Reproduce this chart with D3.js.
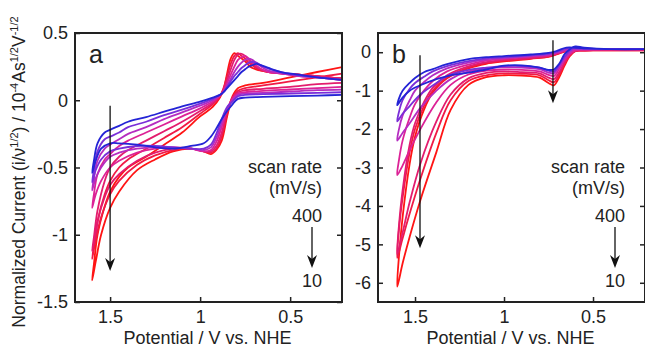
<!DOCTYPE html>
<html>
<head>
<meta charset="utf-8">
<script src="https://cdn.jsdelivr.net/npm/d3@7"></script>
<style>
  body { margin: 0; background: #fff; }
  text { font-family: "Liberation Sans", Arial, sans-serif; fill: #222; }
</style>
</head>
<body>
<svg id="chart" width="645" height="348"></svg>
<script>
// scan rates (mV/s), slowest first, with the line colour for each
const scanRates = [10, 20, 50, 100, 200, 300, 400];
const rateColors = ['#ff1414', '#f01a46', '#e31c6e', '#dc2296', '#b52cc0', '#7a2ed8', '#2424d6'];

// panel a : forward branch (towards 1.6 V) and return branch, E in V
const aLowE = [0.2, 0.35, 0.5, 0.65, 0.75, 0.79, 0.82, 0.85, 0.88, 0.91, 0.94, 0.98, 1.05, 1.15, 1.25, 1.35, 1.45, 1.5, 1.55, 1.58, 1.6];
const aLow = [
  [0.25, 0.21, 0.17, 0.13, 0.11, 0.09, 0.03, -0.12, -0.3, -0.37, -0.4, -0.38, -0.36, -0.38, -0.44, -0.52, -0.68, -0.8, -1.0, -1.2, -1.34],
  [0.2, 0.17, 0.14, 0.11, 0.09, 0.07, 0.02, -0.1, -0.27, -0.36, -0.39, -0.38, -0.36, -0.37, -0.41, -0.48, -0.6, -0.7, -0.87, -1.04, -1.18],
  [0.13, 0.12, 0.1, 0.085, 0.075, 0.06, 0.02, -0.08, -0.24, -0.34, -0.38, -0.38, -0.36, -0.36, -0.39, -0.45, -0.55, -0.63, -0.8, -0.98, -1.12],
  [0.1, 0.09, 0.08, 0.07, 0.06, 0.05, 0.01, -0.07, -0.2, -0.31, -0.37, -0.38, -0.36, -0.35, -0.36, -0.39, -0.45, -0.5, -0.6, -0.7, -0.8],
  [0.08, 0.075, 0.065, 0.055, 0.05, 0.04, 0.0, -0.06, -0.17, -0.28, -0.35, -0.37, -0.36, -0.35, -0.35, -0.36, -0.39, -0.42, -0.5, -0.58, -0.67],
  [0.06, 0.055, 0.05, 0.045, 0.04, 0.03, -0.01, -0.05, -0.14, -0.25, -0.33, -0.36, -0.36, -0.35, -0.34, -0.34, -0.36, -0.38, -0.44, -0.52, -0.61],
  [0.04, 0.035, 0.03, 0.025, 0.02, 0.01, -0.03, -0.08, -0.14, -0.21, -0.27, -0.32, -0.34, -0.36, -0.35, -0.33, -0.32, -0.32, -0.36, -0.45, -0.54]
];
const aUpE = [1.59, 1.57, 1.53, 1.5, 1.45, 1.4, 1.3, 1.2, 1.1, 1.0, 0.93, 0.89, 0.87, 0.85, 0.83, 0.81, 0.79, 0.77, 0.75, 0.73, 0.71, 0.69, 0.66, 0.62, 0.55, 0.45, 0.35, 0.2];
const aUp = [
  [-1.22, -1.0, -0.79, -0.68, -0.57, -0.5, -0.42, -0.33, -0.24, -0.12, -0.05, 0.02, 0.08, 0.2, 0.31, 0.35, 0.33, 0.31, 0.29, 0.26, 0.24, 0.23, 0.22, 0.21, 0.2, 0.19, 0.18, 0.16],
  [-1.08, -0.9, -0.7, -0.6, -0.5, -0.44, -0.36, -0.28, -0.2, -0.1, -0.03, 0.03, 0.09, 0.18, 0.27, 0.33, 0.35, 0.33, 0.31, 0.28, 0.26, 0.24, 0.22, 0.21, 0.2, 0.19, 0.18, 0.16],
  [-1.02, -0.82, -0.6, -0.5, -0.42, -0.37, -0.3, -0.23, -0.16, -0.08, -0.02, 0.03, 0.08, 0.15, 0.23, 0.3, 0.34, 0.345, 0.33, 0.3, 0.27, 0.25, 0.23, 0.21, 0.2, 0.19, 0.18, 0.16],
  [-0.7, -0.55, -0.44, -0.4, -0.34, -0.3, -0.24, -0.18, -0.12, -0.06, -0.01, 0.035, 0.07, 0.13, 0.19, 0.25, 0.3, 0.32, 0.33, 0.31, 0.28, 0.26, 0.23, 0.21, 0.2, 0.18, 0.17, 0.15],
  [-0.58, -0.45, -0.36, -0.33, -0.29, -0.25, -0.2, -0.14, -0.09, -0.04, 0.0, 0.04, 0.065, 0.11, 0.16, 0.21, 0.25, 0.28, 0.3, 0.31, 0.3, 0.28, 0.25, 0.22, 0.2, 0.18, 0.17, 0.15],
  [-0.52, -0.38, -0.29, -0.27, -0.24, -0.2, -0.16, -0.11, -0.07, -0.025, 0.01, 0.04, 0.06, 0.1, 0.14, 0.18, 0.21, 0.24, 0.26, 0.28, 0.285, 0.28, 0.26, 0.235, 0.21, 0.185, 0.17, 0.15],
  [-0.45, -0.32, -0.24, -0.22, -0.19, -0.16, -0.125, -0.085, -0.045, -0.01, 0.02, 0.04, 0.06, 0.09, 0.12, 0.15, 0.18, 0.21, 0.23, 0.25, 0.26, 0.27, 0.26, 0.24, 0.21, 0.19, 0.17, 0.15]
];

// panel b
const bLowE = [0.2, 0.4, 0.55, 0.6, 0.63, 0.66, 0.69, 0.72, 0.75, 0.8, 0.9, 1.0, 1.1, 1.2, 1.3, 1.38, 1.47, 1.53, 1.57, 1.6];
const bLow = [
  [0.06, 0.06, 0.04, 0.03, -0.1, -0.35, -0.65, -0.86, -0.8, -0.66, -0.61, -0.6, -0.65, -0.85, -1.5, -2.6, -3.85, -4.8, -5.5, -6.1],
  [0.06, 0.06, 0.04, 0.03, -0.08, -0.3, -0.58, -0.78, -0.73, -0.6, -0.56, -0.55, -0.6, -0.75, -1.25, -2.1, -3.3, -4.2, -4.85, -5.35],
  [0.07, 0.07, 0.05, 0.04, -0.06, -0.26, -0.52, -0.7, -0.66, -0.55, -0.52, -0.5, -0.54, -0.68, -1.1, -1.8, -2.9, -3.9, -4.7, -5.25],
  [0.07, 0.07, 0.06, 0.05, -0.04, -0.2, -0.44, -0.62, -0.59, -0.5, -0.46, -0.45, -0.48, -0.58, -0.85, -1.3, -2.0, -2.55, -2.95, -3.2],
  [0.08, 0.08, 0.09, 0.09, 0.0, -0.16, -0.38, -0.55, -0.53, -0.44, -0.4, -0.39, -0.42, -0.5, -0.7, -1.0, -1.45, -1.85, -2.1, -2.3],
  [0.08, 0.08, 0.1, 0.12, 0.04, -0.12, -0.33, -0.5, -0.48, -0.4, -0.36, -0.36, -0.4, -0.46, -0.58, -0.8, -1.1, -1.4, -1.6, -1.8],
  [0.08, 0.08, 0.12, 0.15, 0.08, -0.05, -0.3, -0.45, -0.46, -0.4, -0.34, -0.35, -0.45, -0.53, -0.6, -0.7, -0.86, -1.0, -1.18, -1.38]
];
const bUpE = [1.59, 1.57, 1.53, 1.5, 1.45, 1.4, 1.32, 1.2, 1.1, 1.0, 0.85, 0.75, 0.7, 0.65, 0.55, 0.4, 0.2];
const bUp = [
  [-5.3, -4.3, -2.9, -2.2, -1.5, -1.05, -0.68, -0.42, -0.3, -0.24, -0.17, -0.12, -0.05, 0.03, 0.05, 0.05, 0.05],
  [-4.6, -3.8, -2.6, -2.0, -1.4, -1.0, -0.65, -0.4, -0.28, -0.22, -0.16, -0.11, -0.04, 0.03, 0.05, 0.05, 0.05],
  [-4.5, -3.6, -2.4, -1.85, -1.3, -0.92, -0.6, -0.37, -0.26, -0.2, -0.15, -0.1, -0.03, 0.04, 0.06, 0.06, 0.06],
  [-2.8, -2.3, -1.7, -1.35, -1.0, -0.75, -0.5, -0.32, -0.22, -0.17, -0.12, -0.08, -0.02, 0.05, 0.07, 0.07, 0.07],
  [-2.0, -1.65, -1.25, -1.0, -0.78, -0.6, -0.42, -0.27, -0.19, -0.15, -0.1, -0.06, 0.0, 0.07, 0.08, 0.08, 0.08],
  [-1.55, -1.25, -0.95, -0.8, -0.64, -0.5, -0.36, -0.23, -0.16, -0.13, -0.08, -0.04, 0.02, 0.1, 0.09, 0.08, 0.08],
  [-1.2, -1.0, -0.8, -0.67, -0.52, -0.44, -0.31, -0.18, -0.13, -0.1, -0.06, -0.02, 0.04, 0.12, 0.1, 0.08, 0.08]
];

// tick values
const xTicks = [1.5, 1, 0.5];
const aYTicks = [-1.5, -1, -0.5, 0, 0.5];
const bYTicks = [-6, -5, -4, -3, -2, -1, 0];

// trend arrows: potential, start current, end current
const aArrows = [[1.5, -0.04, -1.27]];
const bArrows = [[1.472, -0.08, -5.1], [0.725, 0.31, -1.33]];

const svg = d3.select('#chart');
const fontSize = 18;
const panelW = 267, panelH = 269, panelTop = 33;

function drawArrow(g, ax, y0, y1, w) {
  g.append('line')
    .attr('x1', ax).attr('x2', ax).attr('y1', y0).attr('y2', y1 - 6)
    .attr('stroke', '#111').attr('stroke-width', w);
  g.append('path')
    .attr('d', 'M' + ax + ',' + y1 + 'L' + (ax - 5) + ',' + (y1 - 13) + 'L' + ax + ',' + (y1 - 9) +
      'L' + (ax + 5) + ',' + (y1 - 13) + 'Z')
    .attr('fill', '#111');
}

function drawPanel(opt) {
  const g = svg.append('g').attr('transform', 'translate(' + opt.left + ',' + panelTop + ')');
  const x = d3.scaleLinear().domain(opt.xDomain).range([0, panelW]);
  const y = d3.scaleLinear().domain(opt.yDomain).range([panelH, 0]);

  g.append('clipPath').attr('id', 'clip' + opt.label)
    .append('rect').attr('width', panelW).attr('height', panelH);

  const line = d3.line()
    .x(d => x(d[0]))
    .y(d => y(d[1]))
    .curve(d3.curveCatmullRom.alpha(0.5));

  const plot = g.append('g').attr('clip-path', 'url(#clip' + opt.label + ')');
  scanRates.forEach((rate, i) => {
    const pts = opt.lowE.map((e, j) => [e, opt.low[i][j]])
      .concat(opt.upE.map((e, j) => [e, opt.up[i][j]]));
    plot.append('path')
      .datum(pts)
      .attr('d', line)
      .attr('fill', 'none')
      .attr('stroke', rateColors[i])
      .attr('stroke-width', 1.8)
      .attr('stroke-linejoin', 'round');
  });

  // axes with inward ticks
  g.append('g')
    .call(d3.axisLeft(y).tickValues(opt.yTicks).tickSize(-5).tickPadding(7).tickFormat(d => String(d)));
  g.append('g').attr('transform', 'translate(' + panelW + ',0)')
    .call(d3.axisRight(y).tickValues(opt.yTicks).tickSize(-5).tickFormat(''));
  g.append('g').attr('transform', 'translate(0,' + panelH + ')')
    .call(d3.axisBottom(x).tickValues(xTicks).tickSize(-5).tickPadding(8).tickFormat(d => String(d)));
  g.selectAll('.domain').remove();
  g.selectAll('.tick line').attr('stroke', '#222').attr('stroke-width', 1.5);
  g.selectAll('.tick text').style('font-size', fontSize + 'px')
    .style('font-family', '"Liberation Sans", Arial, sans-serif').attr('fill', '#222');

  g.append('rect')
    .attr('width', panelW).attr('height', panelH)
    .attr('fill', 'none').attr('stroke', '#222').attr('stroke-width', 2);

  g.append('text')
    .attr('x', 14).attr('y', 30)
    .style('font-size', '25px')
    .text(opt.label);

  // arrows
  opt.arrows.forEach(a => drawArrow(g, x(a[0]), y(a[1]), y(a[2]), 1.3));

  // scan rate key
  const kx = panelW - 20;
  const key = [['scan rate', 140], ['(mV/s)', 161], ['400', 189], ['10', 254]];
  key.forEach(k => {
    g.append('text').attr('x', kx).attr('y', k[1])
      .attr('text-anchor', 'end').style('font-size', fontSize + 'px').text(k[0]);
  });
  drawArrow(g, panelW - 30, 194, 235, 1.3);

  g.append('text')
    .attr('x', panelW / 2 - 1).attr('y', panelH + 42)
    .attr('text-anchor', 'middle')
    .style('font-size', fontSize + 'px')
    .text('Potential / V vs. NHE');
}

drawPanel({ label: 'a', left: 75, xDomain: [1.695, 0.212], yDomain: [-1.5, 0.5], yTicks: aYTicks,
  lowE: aLowE, low: aLow, upE: aUpE, up: aUp, arrows: aArrows });
drawPanel({ label: 'b', left: 378, xDomain: [1.708, 0.208], yDomain: [-6.5, 0.5], yTicks: bYTicks,
  lowE: bLowE, low: bLow, upE: bUpE, up: bUp, arrows: bArrows });

// y axis title
const yt = svg.append('text')
  .attr('transform', 'translate(25,172) rotate(-90)')
  .attr('text-anchor', 'middle')
  .style('font-size', '17.5px');
const parts = [['Normalized Current (i/\u03bd', 0], ['1/2', 1], [') / 10', 0], ['-4', 1], ['As', 0], ['1/2', 1], ['V', 0], ['-1/2', 1]];
let raised = false;
parts.forEach(p => {
  const t = yt.append('tspan').text(p[0]);
  if (p[1] && !raised) { t.attr('dy', -7).style('font-size', '11px'); raised = true; }
  else if (p[1]) { t.style('font-size', '11px'); }
  else if (raised) { t.attr('dy', 7); raised = false; }
});
</script>
</body>
</html>
